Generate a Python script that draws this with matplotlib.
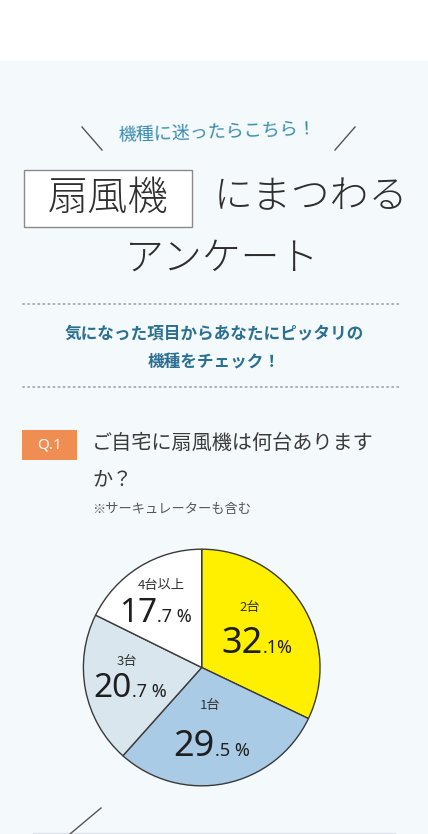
import matplotlib
matplotlib.use("Agg")
import matplotlib.pyplot as plt
from matplotlib.patches import Rectangle

# ---- data ----
categories = ["2台", "1台", "3台", "4台以上"]
shares = [32.1, 29.5, 20.7, 17.7]
pct_sep = ["", " ", " ", " "]
slice_colors = ["#fff000", "#a9cbe5", "#d9e6ee", "#ffffff"]

title_box = "扇風機"
title_rest1 = "にまつわる"
title_rest2 = "アンケート"
kicker = "機種に迷ったらこちら！"
sub1 = "気になった項目からあなたにピッタリの"
sub2 = "機種をチェック！"
q_tag = "Q.1"
q_line1 = "ご自宅に扇風機は何台ありますか？"
q_note = "※サーキュレーターも含む"

JP = ["Noto Sans CJK JP", "DejaVu Sans"]
NUM = ["Noto Sans", "DejaVu Sans"]

W, H = 428, 834
fig = plt.figure(figsize=(W / 100, H / 100), dpi=100)
fig.patch.set_facecolor("white")

# background axes
bg = fig.add_axes([0, 0, 1, 1], zorder=0)
bg.set_xlim(0, W); bg.set_ylim(H, 0); bg.axis("off")
bg.add_patch(Rectangle((0, 61), W, H - 61, facecolor="#f4f9fc", edgecolor="none"))

# pie axes
cx, cy, r = 201.7, 667.5, 119.5
axp = fig.add_axes([(cx - r) / W, (H - cy - r) / H, 2 * r / W, 2 * r / H], zorder=1)
axp.pie(shares, colors=slice_colors, startangle=90, counterclock=False,
        wedgeprops=dict(edgecolor="#3a3a3a", linewidth=1.0))
axp.set_xlim(-1.01, 1.01); axp.set_ylim(-1.01, 1.01)
axp.set_aspect("equal"); axp.axis("off")

# overlay axes for text and decorations
ax = fig.add_axes([0, 0, 1, 1], zorder=2)
ax.set_xlim(0, W); ax.set_ylim(H, 0); ax.axis("off")
ax.patch.set_alpha(0)

teal = "#3a8bb0"
dark_teal = "#2c7091"
ink = "#2e2e2e"

# kicker with slashes
ax.text(217, 132, kicker, family=JP, fontsize=13, color=teal, ha="center", va="center", rotation=2)
ax.plot([82, 102], [127, 150], color="#555555", lw=1)
ax.plot([335, 355], [150, 127], color="#555555", lw=1)

# title
ax.add_patch(Rectangle((24, 170), 168, 57, facecolor="white", edgecolor="#8a8a8a", lw=1))
ax.text(108, 199, title_box, family=JP, fontsize=29, fontweight="light", color=ink,
        ha="center", va="center")
ax.text(311, 197, title_rest1, family=JP, fontsize=28, fontweight="light", color=ink,
        ha="center", va="center")
ax.text(222, 259, title_rest2, family=JP, fontsize=28, fontweight="light", color=ink,
        ha="center", va="center")

# dotted rules
for yy in (304, 387):
    ax.plot([23, 400], [yy, yy], color="#a3abb0", lw=1.3, linestyle=(0, (0.7, 2.1)),
            dash_capstyle="round")

ax.text(214, 333, sub1, family=JP, fontsize=12, fontweight="bold", color=dark_teal, ha="center", va="center")
ax.text(214, 362, sub2, family=JP, fontsize=12, fontweight="bold", color=dark_teal, ha="center", va="center")

# question tag
ax.add_patch(Rectangle((22, 430), 55, 30, facecolor="#ef8d52", edgecolor="none"))
ax.text(49.5, 445, q_tag, family=NUM, fontsize=11, color="white", ha="center", va="center")

ax.text(92, 443, q_line1[:-2], family=JP, fontsize=14.5, color="#3a3a3a", ha="left", va="center")
ax.text(92, 480, q_line1[-2:], family=JP, fontsize=14.5, color="#3a3a3a", ha="left", va="center")
ax.text(92, 509, q_note, family=JP, fontsize=9.5, color="#555555", ha="left", va="center")

# pie labels
label_pos = [(250, 607), (210, 705), (127, 662), (161, 585)]
num_split_x = [263, 215, 132, 157]
num_base_y = [653, 756, 697, 622]
big_sizes = [26, 26, 24, 24]
for cat, val, sep, (lx, ly), sx, by, bs in zip(categories, shares, pct_sep, label_pos,
                                                num_split_x, num_base_y, big_sizes):
    ax.text(lx, ly, cat, family=JP, fontsize=9.5, color="#333333", ha="center", va="center")
    ip, dp = f"{val:.1f}".split(".")
    ax.text(sx, by, ip, family=NUM, fontsize=bs, color="#1f1f1f", ha="right", va="baseline")
    ax.text(sx, by, "." + dp + sep + "%", family=NUM, fontsize=13, color="#1f1f1f",
            ha="left", va="baseline")

# bottom decorations
ax.plot([33, 395], [832.5, 832.5], color="#dde3e8", lw=1)
ax.plot([70, 101], [834, 808], color="#555555", lw=1)

fig.savefig("out.png", dpi=100, facecolor=fig.get_facecolor())
